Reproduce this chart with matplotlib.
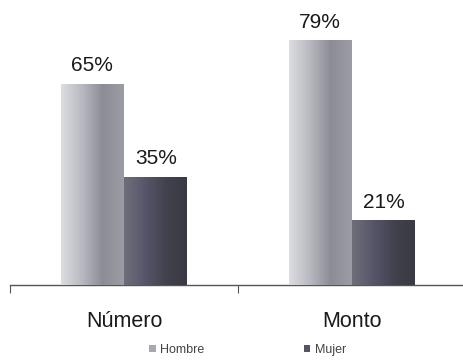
import numpy as np
import matplotlib.pyplot as plt
from matplotlib.colors import LinearSegmentedColormap
from matplotlib.patches import Patch

# Datos
categorias = ["Número", "Monto"]
hombre = [65, 79]
mujer = [35, 21]
series = ["Hombre", "Mujer"]

plt.rcParams['font.family'] = ['Liberation Sans', 'DejaVu Sans']

fig = plt.figure(figsize=(4.63, 3.6), dpi=100)
ax = fig.add_axes([10 / 463, 75 / 360, 456 / 463, 285 / 360])

x = np.arange(len(categorias))
ancho = 0.276
desp = 0.14

cmap_h = LinearSegmentedColormap.from_list("h", ["#dcdce2", "#b8b8c0", "#8c8c96", "#9c9ca4"])
cmap_m = LinearSegmentedColormap.from_list("m", ["#6e6e7a", "#56566a", "#42424e", "#3a3a44"])

grad = np.linspace(0, 1, 64).reshape(1, -1)

def barras_degradado(pos, valores, cmap, color):
    barras = ax.bar(pos, valores, width=ancho, color=color, edgecolor="none", zorder=2)
    for b in barras:
        x0, w, h = b.get_x(), b.get_width(), b.get_height()
        im = ax.imshow(grad, cmap=cmap, aspect="auto", extent=(x0, x0 + w, 0, h),
                       zorder=3, interpolation="bicubic")
        im.set_clip_path(b)
    return barras

b1 = barras_degradado(x - desp, hombre, cmap_h, "#b0b0b8")
b2 = barras_degradado(x + desp, mujer, cmap_m, "#55555f")

for barras, vals in [(b1, hombre), (b2, mujer)]:
    for b, v in zip(barras, vals):
        ax.annotate(f"{v}%", (b.get_x() + b.get_width() / 2, v), xytext=(0, 6),
                    textcoords="offset points", ha="center", va="bottom",
                    fontsize=15, color="#1a1a1a", zorder=5)

ax.set_xlim(-0.5, 1.5)
ax.set_ylim(0, 92)

for s in ["top", "right", "left"]:
    ax.spines[s].set_visible(False)
ax.spines["bottom"].set_color("#555555")
ax.spines["bottom"].set_linewidth(1.0)
ax.set_yticks([])
ax.set_xticks([-0.5, 0.5, 1.5])
ax.set_xticklabels([])
ax.tick_params(axis="x", direction="out", length=6, color="#555555")

for xi, cat in zip(x, categorias):
    ax.text(xi, -11.8, cat, ha="center", va="center", fontsize=15.5, color="#1a1a1a")

handles = [Patch(facecolor="#a8a8b0"), Patch(facecolor="#55555f")]
fig.legend(handles, series, loc="center", bbox_to_anchor=(0.535, 10 / 360),
           ncol=2, frameon=False, fontsize=9, handlelength=0.5, handleheight=0.5,
           handletextpad=0.35, columnspacing=8.0, labelcolor="#444444")

ax.patch.set_alpha(0)
fig.savefig("out.png", dpi=100)
